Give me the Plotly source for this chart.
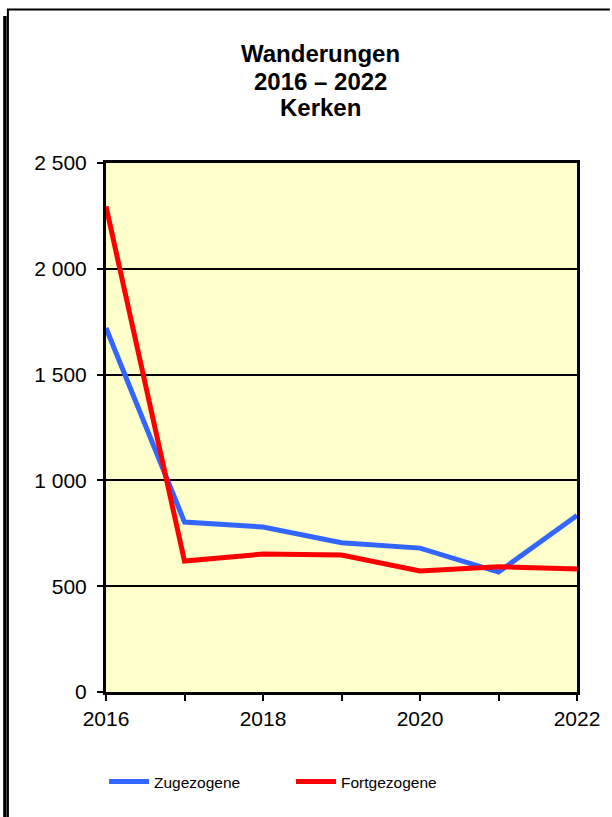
import plotly.graph_objects as go

years = [2016, 2017, 2018, 2019, 2020, 2021, 2022]
zugezogene = [1720, 803, 780, 705, 680, 567, 834]
fortgezogene = [2295, 619, 652, 647, 572, 592, 581]
x_tick_text = ["2016", "", "2018", "", "2020", "", "2022"]
y_tick_vals = [0, 500, 1000, 1500, 2000, 2500]
y_tick_text = ["0", "500", "1 000", "1 500", "2 000", "2 500"]
title_lines = ["Wanderungen", "2016 – 2022", "Kerken"]

W, H = 612, 817
L, R, T, B = 106, 579, 163, 692
pw, ph = R - L, B - T

def px(xp):
    return (xp - L) / pw

def py(yp):
    return (B - yp) / ph

FONT = "Liberation Sans, Arial, sans-serif"

fig = go.Figure()
fig.add_trace(go.Scatter(x=years, y=zugezogene, name="Zugezogene", mode="lines",
                         line=dict(color="#3366FF", width=5)))
fig.add_trace(go.Scatter(x=years, y=fortgezogene, name="Fortgezogene", mode="lines",
                         line=dict(color="#FF0000", width=5)))

annotations = []
for txt, yc in zip(title_lines, [53, 81, 107]):
    annotations.append(dict(text="<b>" + txt + "</b>", xref="paper", yref="paper",
                            x=px(321), y=py(yc), xanchor="center", yanchor="middle",
                            showarrow=False, font=dict(family=FONT, size=24, color="black")))

shapes = [
    dict(type="line", xref="paper", yref="paper", x0=px(7.5), x1=px(7.5), y0=py(9), y1=py(817),
         line=dict(color="black", width=2)),
    dict(type="line", xref="paper", yref="paper", x0=px(6.5), x1=px(612), y0=py(9.5), y1=py(9.5),
         line=dict(color="black", width=2)),
    dict(type="line", xref="paper", yref="paper", x0=px(4.5), x1=px(4.5), y0=py(16), y1=py(817),
         line=dict(color="black", width=3.5)),
]

fig.update_layout(
    width=W, height=H,
    margin=dict(l=L, r=W - R, t=T, b=H - B),
    paper_bgcolor="white", plot_bgcolor="#FFFFCC",
    font=dict(family=FONT, size=21, color="black"),
    showlegend=True,
    legend=dict(orientation="h", x=px(104), y=py(782), xanchor="left", yanchor="middle",
                font=dict(family=FONT, size=15.5, color="black"),
                entrywidth=132, entrywidthmode="pixels", bgcolor="rgba(0,0,0,0)",
                itemwidth=40),
    annotations=annotations,
    shapes=shapes,
)
fig.update_xaxes(range=[2016, 2022], tickvals=years, ticktext=x_tick_text,
                 ticks="outside", ticklen=6, tickwidth=2, tickcolor="black",
                 showline=True, linecolor="black", linewidth=3, mirror=True,
                 showgrid=False, zeroline=False, tickfont=dict(size=21))
fig.update_yaxes(range=[0, 2500], tickvals=y_tick_vals, ticktext=y_tick_text,
                 ticks="outside", ticklen=6, tickwidth=2, tickcolor="black",
                 showline=True, linecolor="black", linewidth=3, mirror=True,
                 showgrid=True, gridcolor="black", gridwidth=2, zeroline=False,
                 tickfont=dict(size=21), ticklabelstandoff=6)

fig.write_html("out.html", config={"displayModeBar": False},
               post_script="document.body.style.margin='0';document.body.style.overflow='hidden';")
